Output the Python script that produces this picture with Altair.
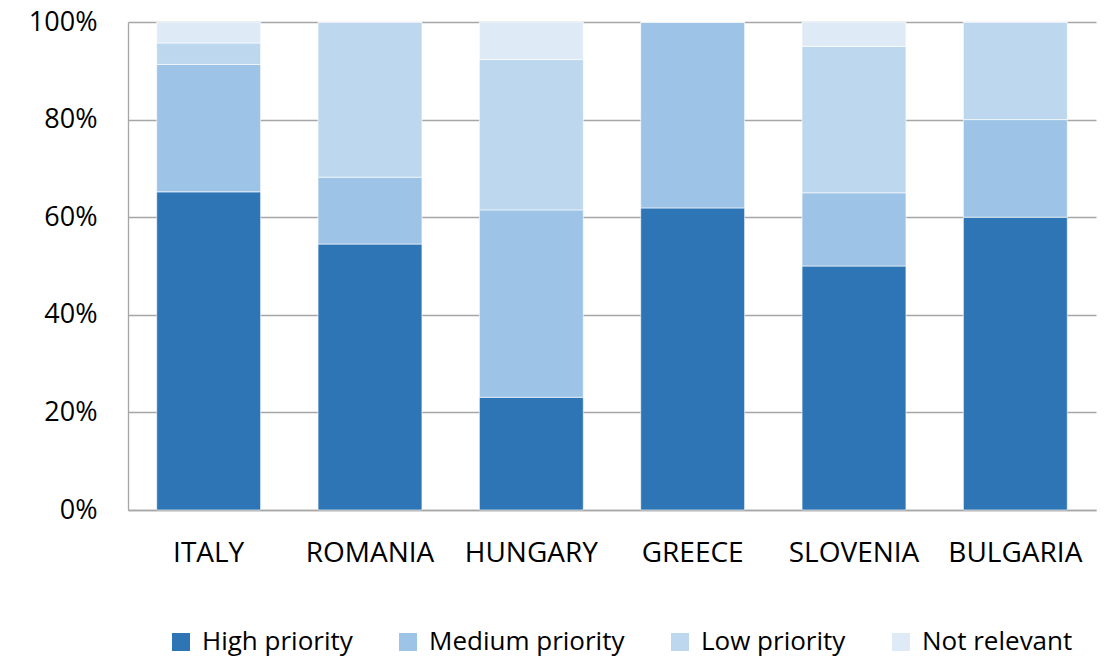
import altair as alt
import pandas as pd

countries = ["ITALY", "ROMANIA", "HUNGARY", "GREECE", "SLOVENIA", "BULGARIA"]
priorities = ["High priority", "Medium priority", "Low priority", "Not relevant"]
colors = ["#2E75B6", "#9DC3E6", "#BDD7EE", "#DEEBF7"]

high = [65.2, 54.5, 23.1, 61.9, 50.0, 60.0]
medium = [26.1, 13.7, 38.4, 38.1, 15.0, 20.0]
low = [4.4, 31.8, 30.8, 0.0, 30.0, 20.0]
not_relevant = [4.3, 0.0, 7.7, 0.0, 5.0, 0.0]

series = [high, medium, low, not_relevant]
rows = []
for i, (name, vals) in enumerate(zip(priorities, series)):
    for c, v in zip(countries, vals):
        rows.append({"country": c, "priority": name, "idx": i, "value": v / 100.0})
df = pd.DataFrame(rows)

FONT = "Open Sans"
GRID = "#A6A6A6"

chart = alt.Chart(df).mark_bar(stroke="white", strokeWidth=0.6).encode(
    x=alt.X(
        "country:N",
        sort=countries,
        scale=alt.Scale(paddingInner=0.356, paddingOuter=0.178),
        axis=alt.Axis(
            title=None, labelAngle=0, labelFontSize=28, labelFont=FONT,
            labelColor="black", labelPadding=29, ticks=False,
            domainColor=GRID, domainWidth=1.3, grid=False,
        ),
    ),
    y=alt.Y(
        "value:Q",
        stack="zero",
        scale=alt.Scale(domain=[0, 1], nice=False),
        axis=alt.Axis(
            title=None, format=".0%", values=[0, 0.2, 0.4, 0.6, 0.8, 1.0],
            labelFontSize=27, labelFont=FONT, labelColor="black",
            labelPadding=31, ticks=False, domainColor=GRID, domainWidth=1.3,
            grid=True, gridColor=GRID, gridWidth=1.3,
        ),
    ),
    color=alt.Color(
        "priority:N",
        scale=alt.Scale(domain=priorities, range=colors),
        legend=alt.Legend(
            title=None, orient="none", legendX=40, legendY=607,
            direction="horizontal", columns=4, symbolType="square",
            symbolSize=324, symbolStrokeWidth=0, symbolOpacity=1,
            labelFontSize=26, labelFont=FONT, labelColor="black",
            labelOffset=8, columnPadding=42, padding=0, labelLimit=500,
        ),
    ),
    order=alt.Order("idx:Q", sort="ascending"),
).properties(
    width=968,
    height=488,
    autosize="none",
    padding={"left": 120, "top": 14, "right": 11, "bottom": 152},
).configure_view(stroke=None)

chart.save("out.html", embed_options={"renderer": "svg", "actions": False})
